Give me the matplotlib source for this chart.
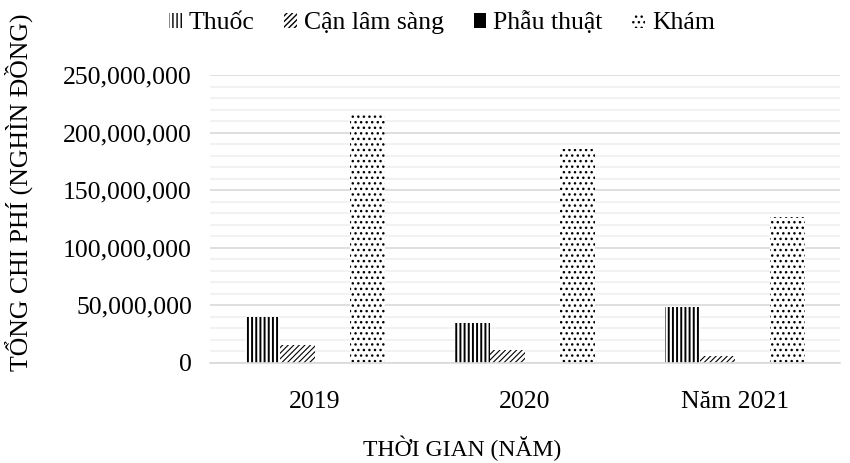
import matplotlib
matplotlib.use("Agg")
import matplotlib.pyplot as plt
from matplotlib.ticker import MultipleLocator, FuncFormatter
import numpy as np

# data
years = ["2019", "2020", "Năm 2021"]
thuoc = [39_500_000, 35_000_000, 49_000_000]
can_lam_sang = [15_500_000, 11_300_000, 6_000_000]
phau_thuat = [0, 0, 0]
kham = [215_000_000, 186_000_000, 126_500_000]

series_names = ["Thuốc", "Cận lâm sàng", "Phẫu thuật", "Khám"]
series_vals = [thuoc, can_lam_sang, phau_thuat, kham]
hatches = ["||||", "//////", None, "..."]
hatch_lw = [1.4, 0.8, 1.0, 1.0]
faces = ["white", "white", "black", "white"]

plt.rcParams["font.family"] = ["Liberation Serif", "DejaVu Serif"]

fig = plt.figure(figsize=(8.5, 4.63), dpi=100)
ax = fig.add_axes([0.247, 0.216, 0.741, 0.622])

x = np.arange(len(years))
w = 1 / 6
for i, (name, vals) in enumerate(zip(series_names, series_vals)):
    with plt.rc_context({"hatch.linewidth": hatch_lw[i]}):
        bars = ax.bar(x + (i - 1.5) * w, vals, width=w, facecolor=faces[i],
                      edgecolor="black", linewidth=0, hatch=hatches[i], label=name)
    for b in bars:
        if hasattr(b, "set_hatch_linewidth"):
            b.set_hatch_linewidth(hatch_lw[i])

ax.set_xlim(-0.5, 2.5)
ax.set_ylim(0, 250_000_000)
ax.yaxis.set_major_locator(MultipleLocator(50_000_000))
ax.yaxis.set_minor_locator(MultipleLocator(10_000_000))
ax.yaxis.set_major_formatter(FuncFormatter(lambda v, p: f"{int(v):,}"))
ax.set_xticks(x, years)
ax.tick_params(axis="both", which="both", length=0, labelsize=18.5)
ax.tick_params(axis="x", pad=20)
ax.tick_params(axis="y", pad=13)

ax.grid(True, axis="y", which="major", color="#d9d9d9", linewidth=1.2)
ax.grid(True, axis="y", which="minor", color="#f0f0f0", linewidth=1.2)
ax.set_axisbelow(True)
for s in ["top", "right", "left"]:
    ax.spines[s].set_visible(False)
ax.spines["bottom"].set_color("#d9d9d9")
ax.spines["bottom"].set_linewidth(1.2)

fig.text(19 / 850, 1 - 192 / 463, "TỔNG CHI PHÍ (NGHÌN ĐỒNG)", rotation=90,
         ha="center", va="center", fontsize=18.5)
fig.text(462 / 850, 1 - 448 / 463, "THỜI GIAN (NĂM)",
         ha="center", va="center", fontsize=17)

leg = fig.legend(loc="center", bbox_to_anchor=(442 / 850, 1 - 23 / 463), ncol=4,
                 frameon=False, fontsize=18.5, handlelength=0.5, handleheight=0.5,
                 handletextpad=0.27, columnspacing=1.15)

fig.savefig("out.png", dpi=100)
